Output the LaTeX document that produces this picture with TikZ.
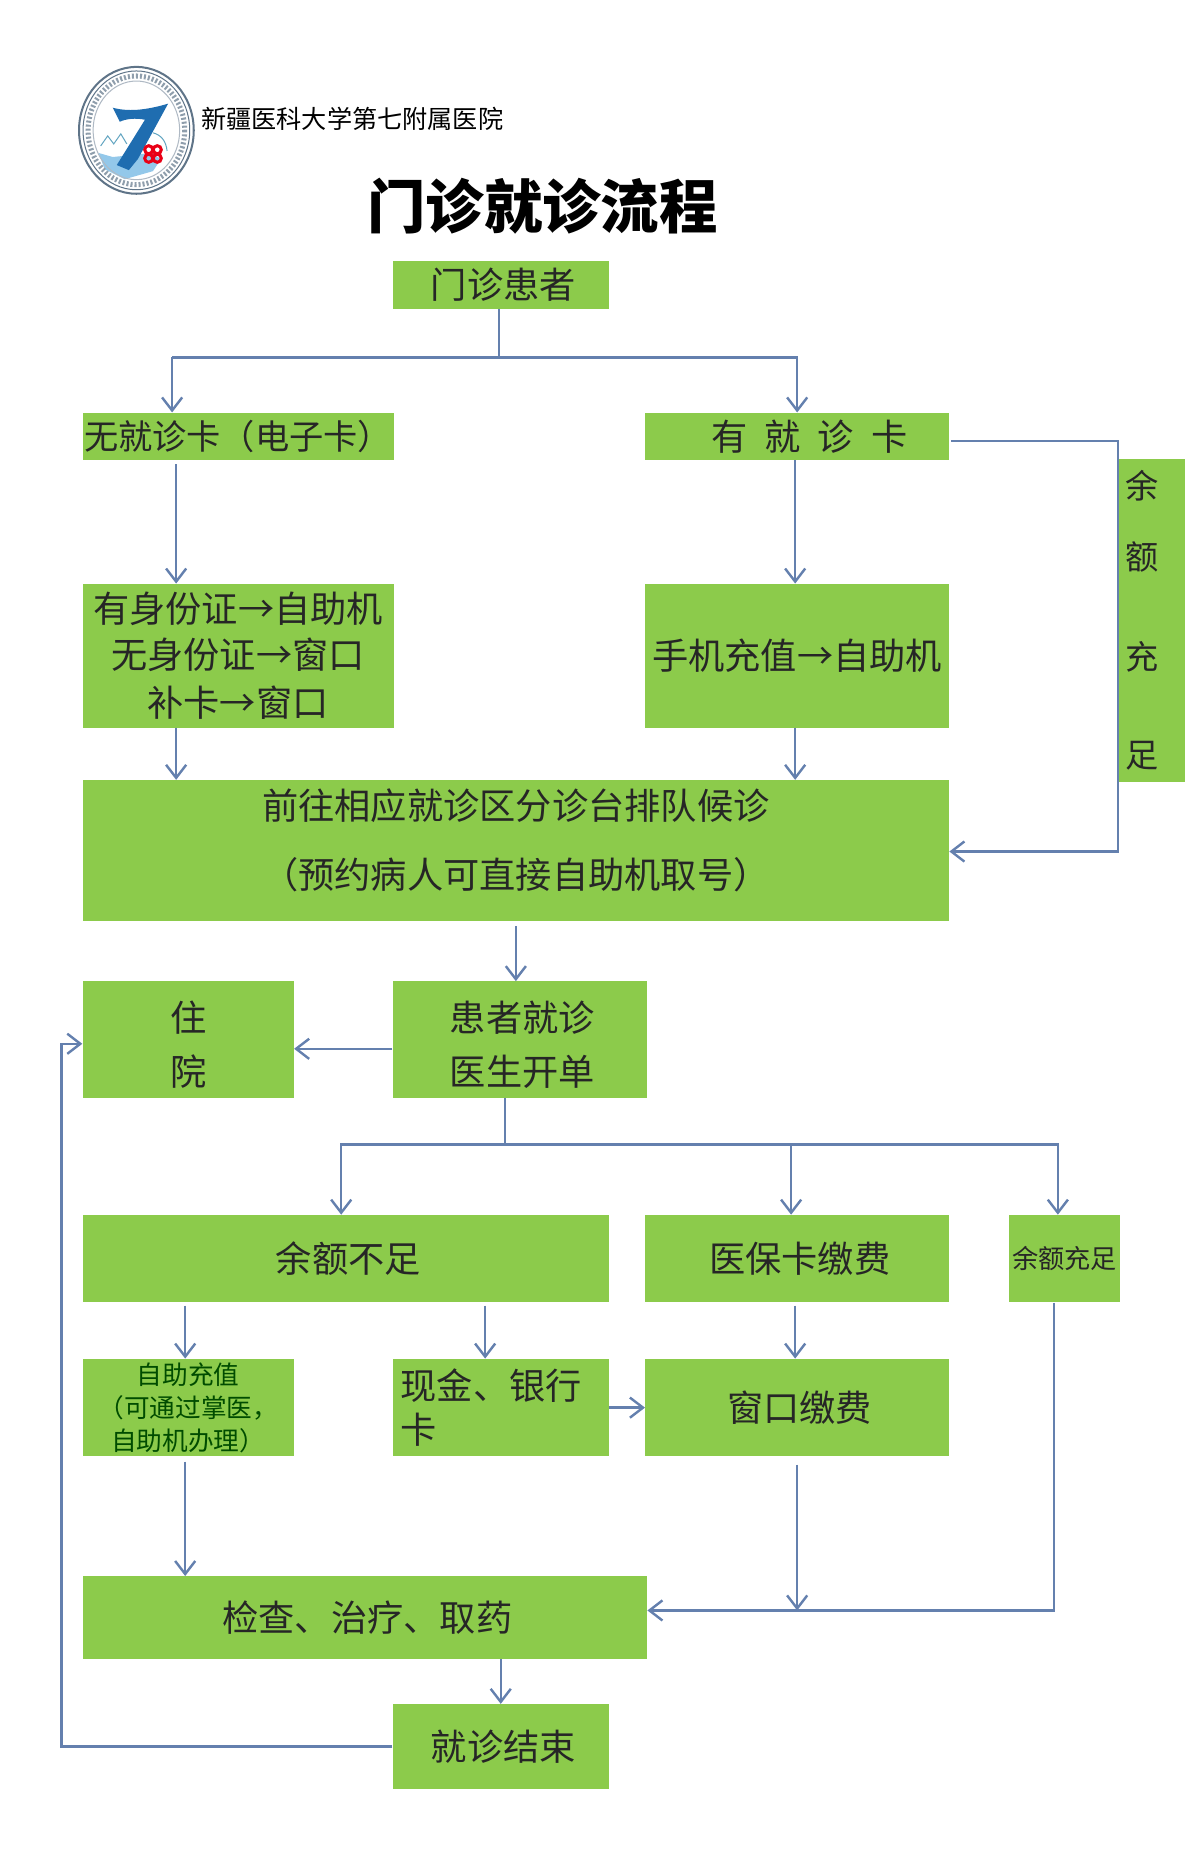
\documentclass[tikz,border=0pt]{standalone}
\usepackage{fontspec}
\setmainfont{Noto Sans CJK SC}
\usetikzlibrary{arrows.meta}
\definecolor{boxgreen}{HTML}{8CCB4B}
\definecolor{linkblue}{HTML}{6480AE}
\definecolor{logoblue}{HTML}{1F6DB0}
\definecolor{logoring}{HTML}{5F7488}
\definecolor{logowater}{HTML}{93C8EA}
\newcommand{\zh}[2]{\fontsize{#1}{#2}\selectfont}
\newcommand{\nudge}{\hspace*{5pt}}
\tikzset{
    boxy/.style={fill=boxgreen,inner sep=0pt,align=center,text=black!85,font=\zh{36}{46}},
    link/.style={color=linkblue,line width=2.4pt},
    flow/.style={link,-{Straight Barb[length=13pt,width=20pt,line width=2.4pt]}},
}
\begin{document}
\begin{tikzpicture}[x=1pt,y=-1pt]
        \useasboundingbox (0,0) rectangle (1192,1838);

        %logo
        \fill[white](135.5,129.5) ellipse (57 and 63);
        \fill[logowater](98,152)--(112,156)--(150,152)--(160,158)--(152,170)--(124,178)--(104,168)--cycle;
        \draw[logoring,line width=2pt](135.5,129.5) ellipse (57 and 63);
        \draw[logoring,line width=1pt](135.5,129.5) ellipse (53 and 59);
        \draw[logoring!70,line width=5pt,dash pattern=on 2pt off 2pt](135.5,129.5) ellipse (48 and 54);
        \draw[logoring!50,line width=1pt](135.5,129.5) ellipse (43 and 49);
        \draw[cyan!50!gray,line width=1pt](100,145)--(107,135)--(113,143)--(120,133)--(126,143);
        \draw[cyan!50!gray,line width=1pt](152,132)..controls(160,134)and(165,140)..(166,150);
        \fill[logoblue](112,107)..controls(130,112)and(150,108)..(167,103)--(137,158)--(128,169)--(116,164)--(144,119)..controls(135,117)and(125,118)..(119,121)--cycle;
        \foreach \a in {45,135,225,315} \draw[red!65!purple,line width=3pt](152,153)++(\a:6) circle (4);

        \node[inner sep=0pt,font=\zh{25}{25}](yiyuan)at(350,118){新疆医科大学第七附属医院};
        \node[inner sep=0pt,font=\bfseries\zh{58}{58}](biaoti)at(539,205){门诊就诊流程};

        %boxes
        \node[boxy,minimum width=215,minimum height=48](menzhen)at(497.5,283){\nudge 门诊患者};
        \node[boxy,minimum width=309,minimum height=47,font=\zh{34}{46}](wuka)at(236.5,433.5){无就诊卡（电子卡）};
        \node[boxy,minimum width=302,minimum height=47](youka)at(792,433.5){\hspace*{24pt}有\hspace{17pt}就\hspace{17pt}诊\hspace{17pt}卡};
        \node[boxy,minimum width=66,minimum height=321,font=\zh{33}{40},align=left,text width=51](chongzu)at(1144,616.5){余\\[30pt]额\\[59pt]充\\[58pt]足};
        \node[boxy,minimum width=309,minimum height=143](shenfen)at(236.5,651.5){有身份证→自助机\\无身份证→窗口\\[2pt]补卡→窗口};
        \node[boxy,minimum width=302,minimum height=143](shouji)at(792,651.5){手机充值→自助机};
        \node[boxy,minimum width=861,minimum height=140,font=\zh{36}{68}](qianwang)at(512.5,845){前往相应就诊区分诊台排队候诊\\（预约病人可直接自助机取号）\\[-44pt]\mbox{}};
        \node[boxy,minimum width=210,minimum height=116,font=\zh{36}{54}](zhuyuan)at(187,1033){\mbox{}\\[-14pt]住\\院};
        \node[boxy,minimum width=253,minimum height=116,font=\zh{36}{54}](jiuzhen)at(516.5,1033){\mbox{}\\[-14pt]\nudge 患者就诊\\\nudge 医生开单};
        \node[boxy,minimum width=523,minimum height=87](buzu)at(343.5,1250.5){\nudge 余额不足};
        \node[boxy,minimum width=302,minimum height=87](yibao)at(792,1250.5){\nudge 医保卡缴费};
        \node[boxy,minimum width=111,minimum height=87,font=\zh{26}{26}](chongzu2)at(1057.5,1250.5){余额充足};
        \node[boxy,minimum width=210,minimum height=97,font=\zh{25.5}{33},text=green!30!black](zizhu)at(187,1398.5){自助充值\\（可通过掌医，\\自助机办理）};
        \node[boxy,minimum width=215,minimum height=97,font=\zh{36}{44},align=left,text width=199](xianjin)at(497.5,1398.5){现金、银行\\卡};
        \node[boxy,minimum width=302,minimum height=97](chuangkou)at(792,1398.5){\nudge 窗口缴费};
        \node[boxy,minimum width=561,minimum height=82](jiancha)at(362.5,1607){\nudge 检查、治疗、取药};
        \node[boxy,minimum width=215,minimum height=84](jieshu)at(497.5,1735){\nudge 就诊结束};

        %branch points
        \coordinate(fen)at(496,355);
        \coordinate(fenl)at(171,355);
        \coordinate(fenr)at(792,355);
        \coordinate(lx)at(175,0);
        \coordinate(rx)at(790,0);
        \coordinate(yue)at(1111,438);
        \coordinate(yuex)at(1111,846);
        \coordinate(kai)at(502,1137);
        \coordinate(kail)at(339,1137);
        \coordinate(kaim)at(786,1137);
        \coordinate(kair)at(1051,1137);
        \coordinate(zx)at(184,0);
        \coordinate(xx)at(482,0);
        \coordinate(cx)at(792,0);
        \coordinate(ex)at(1047,0);
        \coordinate(huix)at(61,0);
        \coordinate(huiy)at(61,1037);
        \coordinate(hy)at(0,1042);
        \coordinate(jy)at(0,1600);

        %connectors
        \draw[link](menzhen.south-|fen)--(fen);
        \draw[flow](fenl)--(fen)--(fenr)--(youka.north-|fenr);
        \draw[flow](fenl)--(wuka.north-|fenl);
        \draw[flow,shorten <=4pt](wuka.south-|lx)--(shenfen.north-|lx);
        \draw[flow](youka.south-|rx)--(shouji.north-|rx);
        \draw[flow](shenfen.south-|lx)--(qianwang.north-|lx);
        \draw[flow](shouji.south-|rx)--(qianwang.north-|rx);
        \draw[flow,shorten <=2pt](youka.east|-yue)--(yue)--(yuex)--(qianwang.east|-yuex);
        \draw[flow,shorten <=5pt](qianwang.south)--(jiuzhen.north-|qianwang.south);
        \draw[flow](jiuzhen.west|-hy)--(zhuyuan.east|-hy);
        \draw[link](jiuzhen.south-|kai)--(kai);
        \draw[flow](kai)--(kail)--(buzu.north-|kail);
        \draw[flow](kai)--(kaim)--(yibao.north-|kaim);
        \draw[flow](kaim)--(kair)--(chongzu2.north-|kair);
        \draw[flow,shorten <=3pt](buzu.south-|zx)--(zizhu.north-|zx);
        \draw[flow,shorten <=3pt](buzu.south-|xx)--(xianjin.north-|xx);
        \draw[flow,shorten <=3pt](yibao.south-|rx)--(chuangkou.north-|rx);
        \draw[flow](xianjin.east)--(chuangkou.west);
        \draw[flow,shorten <=5pt](zizhu.south-|zx)--(jiancha.north-|zx);
        \draw[flow,shorten <=8pt](chuangkou.south-|cx)--(cx|-jy);
        \draw[flow](chongzu2.south-|ex)--(ex|-jy)--(jiancha.east|-jy);
        \draw[flow](jiancha.south-|jieshu)--(jieshu.north);
        \draw[flow](jieshu.west)--(huix|-jieshu.west)--(huiy)--(zhuyuan.west|-huiy);
    \end{tikzpicture}
\end{document}
